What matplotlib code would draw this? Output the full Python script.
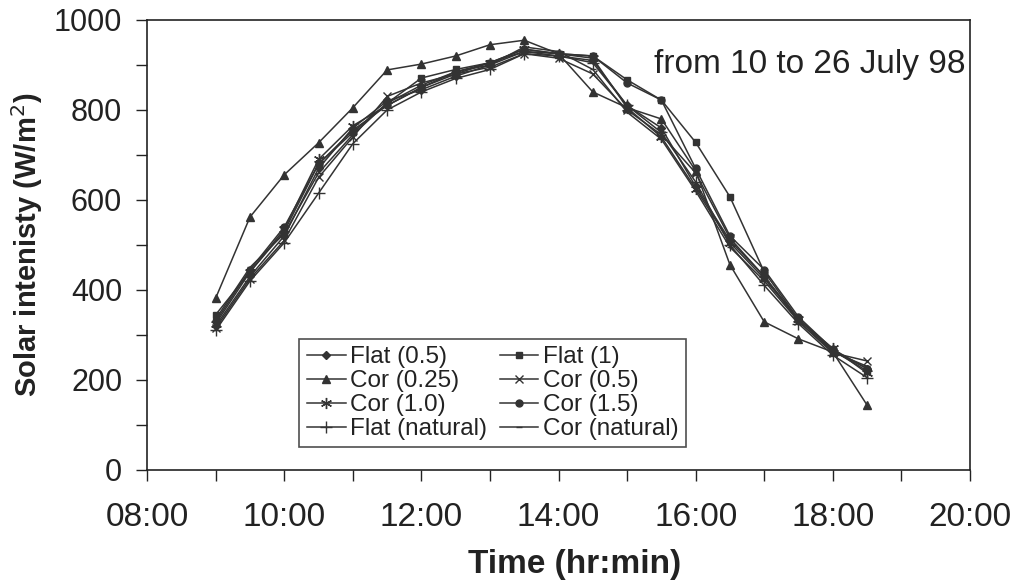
import matplotlib
matplotlib.use('Agg')
import matplotlib.pyplot as pl
from matplotlib.ticker import MultipleLocator, FuncFormatter

pl.rcParams['font.family'] = ['Liberation Sans', 'DejaVu Sans']

# half-hourly readings, 10 to 26 July 98
times = ['09:00', '09:30', '10:00', '10:30', '11:00', '11:30', '12:00',
         '12:30', '13:00', '13:30', '14:00', '14:30', '15:00', '15:30',
         '16:00', '16:30', '17:00', '17:30', '18:00', '18:30']

flat_05 = [320, 430, 520, 670, 760, 820, 845, 875, 900, 930,
           920, 910, 810, 760, 630, 510, 430, 335, 265, 225]
flat_1 = [345, 440, 530, 680, 750, 815, 871, 890, 905, 930,
          925, 920, 867, 822, 728, 607, 440, 335, 265, 220]
cor_025 = [382, 562, 656, 727, 805, 889, 902, 920, 945, 955,
           925, 840, 805, 780, 665, 456, 329, 291, 262, 144]
cor_05 = [315, 425, 510, 650, 740, 830, 860, 880, 895, 925,
          915, 880, 800, 745, 660, 515, 430, 330, 260, 242]
cor_10 = [325, 440, 535, 690, 765, 810, 850, 880, 905, 935,
          925, 915, 805, 740, 625, 505, 425, 335, 270, 215]
cor_15 = [330, 445, 540, 680, 755, 810, 850, 885, 905, 935,
          925, 920, 860, 822, 670, 520, 445, 340, 268, 225]
flat_nat = [310, 420, 505, 615, 725, 800, 840, 870, 890, 925,
            920, 905, 810, 750, 640, 500, 410, 325, 255, 205]
cor_nat = [335, 450, 525, 660, 745, 815, 855, 885, 900, 940,
           930, 890, 795, 735, 620, 495, 420, 330, 262, 230]

series = [('Flat (0.5)', flat_05, 'D', 4),
          ('Flat (1)', flat_1, 's', 5),
          ('Cor (0.25)', cor_025, '^', 6),
          ('Cor (0.5)', cor_05, 'x', 6),
          ('Cor (1.0)', cor_10, (6, 2, 0), 8),
          ('Cor (1.5)', cor_15, 'o', 5),
          ('Flat (natural)', flat_nat, '+', 8),
          ('Cor (natural)', cor_nat, '_', 5)]

hours = [int(t[:2]) + int(t[3:]) / 60.0 for t in times]
col = '#333333'

fig = pl.figure(figsize=(10.22, 5.88), dpi=100, facecolor='w')
ax = fig.add_axes([0.144, 0.201, 0.805, 0.765])

lines = []
for name, vals, mk, ms in series:
    l, = ax.plot(hours, vals, color=col, lw=1.1, marker=mk, markersize=ms,
                 markeredgewidth=1.0, markerfacecolor=col, markeredgecolor=col,
                 label=name)
    lines.append(l)

ax.set_xlim(8, 20)
ax.set_ylim(0, 1000)
ax.xaxis.set_major_locator(MultipleLocator(2))
ax.xaxis.set_minor_locator(MultipleLocator(1))
ax.yaxis.set_major_locator(MultipleLocator(200))
ax.yaxis.set_minor_locator(MultipleLocator(100))
ax.xaxis.set_major_formatter(FuncFormatter(lambda v, p: '%02d:00' % int(round(v))))
ax.tick_params(which='both', direction='out', color='#222222', width=1.0,
               labelcolor='#222222', length=8)
ax.tick_params(axis='x', which='major', pad=15, labelsize=24)
ax.tick_params(axis='y', which='major', pad=10, labelsize=22)
ax.tick_params(axis='x', which='both', top=False)
ax.tick_params(axis='y', which='both', right=False)
for s in ax.spines.values():
    s.set_linewidth(1.2)
    s.set_color('#222222')

ax.set_ylabel('Solar intenisty (W/m$^2$)', fontsize=21, fontweight='bold',
              color='#222222', labelpad=6)
ax.set_xlabel('Time (hr:min)', fontsize=24, fontweight='bold',
              color='#222222')
ax.xaxis.set_label_coords(0.52, -0.175)

ax.text(0.995, 0.9, 'from 10 to 26 July 98', transform=ax.transAxes,
        ha='right', va='center', fontsize=24, color='#222222')

# legend filled row by row, like the original
order = [0, 2, 4, 6, 1, 3, 5, 7]
leg = ax.legend([lines[i] for i in order], [series[i][0] for i in order],
                ncol=2, loc='lower left', bbox_to_anchor=(0.185, 0.05),
                fontsize=17.5, frameon=True, fancybox=False, numpoints=1,
                handlelength=1.6, handletextpad=0.2, labelspacing=0.08,
                columnspacing=0.5, borderpad=0.3, borderaxespad=0)
leg.get_frame().set_edgecolor('#222222')
leg.get_frame().set_linewidth(1.2)
for t in leg.get_texts():
    t.set_color('#222222')

pl.savefig('out.png', dpi=100, facecolor='w')
